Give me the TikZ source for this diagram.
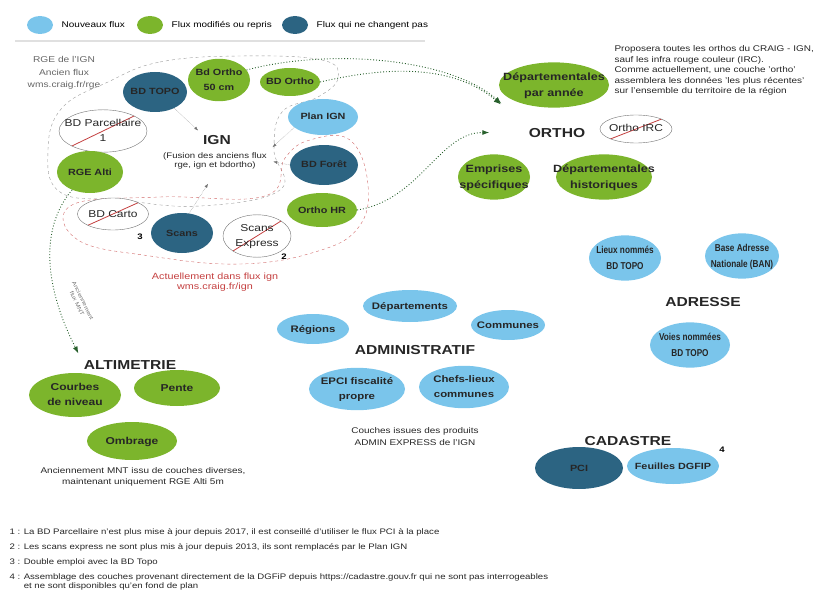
\documentclass[tikz,border=0pt]{standalone}
\usepackage{fontspec}
\setmainfont{Liberation Sans}[FakeStretch=1.2]
\newfontfamily\narrowsans{Liberation Sans}[FakeStretch=0.82]
\usetikzlibrary{shapes.geometric,arrows.meta}

\definecolor{newblue}{RGB}{122,197,235}
\definecolor{modgreen}{RGB}{124,181,44}
\definecolor{keepblue}{RGB}{44,100,130}
\definecolor{feedgreen}{RGB}{40,96,44}
\definecolor{ignred}{RGB}{196,64,64}

\tikzset{
    flux/.style={ellipse, inner sep=0pt, text=black!85,
        font=\fontsize{9}{15}\selectfont\bfseries},
    newflux/.style={flux, fill=newblue},
    modflux/.style={flux, fill=modgreen},
    keepflux/.style={flux, fill=keepblue},
    gone/.style={flux, draw=black!55, fill=white,
        font=\fontsize{10}{15}\selectfont,
        path picture={\draw[ignred, thick] (path picture bounding box.south west)
            -- (path picture bounding box.north east);}},
    bigtxt/.style={font=\fontsize{10.5}{16}\selectfont\bfseries},
    midtxt/.style={font=\fontsize{10}{15}\selectfont\bfseries},
    admtxt/.style={font=\fontsize{9.5}{15}\selectfont\bfseries},
    narrowtxt/.style={font=\narrowsans\fontsize{10}{16}\selectfont\bfseries},
    theme/.style={font=\fontsize{13}{14}\selectfont\bfseries, text=black!85},
    note/.style={font=\fontsize{8.3}{10.5}\selectfont, align=center, text=black!85},
    callnum/.style={font=\fontsize{8}{9}\selectfont\bfseries},
    legdot/.style={ellipse, inner sep=0pt, minimum width=26, minimum height=18},
    legtext/.style={font=\fontsize{8.3}{9}\selectfont, anchor=west},
    feed/.style={dotted, line width=0.9pt, feedgreen, -{Latex[length=7pt, width=5pt]}},
    inner/.style={densely dotted, black!55, -{Latex[length=4pt, width=3pt]}},
}

% ellipse nodes keep their own size, the text does not push them wider
\newcommand{\fl}[1]{\makebox[0pt]{\begin{tabular}{@{}c@{}}#1\end{tabular}}}
\newcommand{\nwn}{\node[newflux]}
\newcommand{\mdn}{\node[modflux]}
\newcommand{\kpn}{\node[keepflux]}
\newcommand{\gon}{\node[gone]}

\begin{document}
\begin{tikzpicture}[x=1pt, y=-1pt]
    \useasboundingbox (0,0) rectangle (816,591);

    % legende
    \node[legdot, fill=newblue] (lgnew) at (40,25) {};
    \node[legtext] (lgnewtxt) at ([xshift=5pt]lgnew.east) {Nouveaux flux};
    \node[legdot, fill=modgreen] (lgmod) at (150,25) {};
    \node[legtext] (lgmodtxt) at ([xshift=5pt]lgmod.east) {Flux modifiés ou repris};
    \node[legdot, fill=keepblue] (lgkeep) at (295,25) {};
    \node[legtext] (lgkeeptxt) at ([xshift=5pt]lgkeep.east) {Flux qui ne changent pas};
    \draw[black!12, line width=1.2pt] (15,41) -- (425,41);

    % IGN
    \draw[dashed, black!40]
        plot[smooth cycle, tension=0.7] coordinates {(108,82) (160,62) (240,56) (322,60)
            (338,78) (318,97) (282,112) (274,150) (280,190) (200,206) (120,200) (60,192)
            (48,150) (62,108)};
    \draw[dashed, ignred!80]
        plot[smooth cycle, tension=0.7] coordinates {(72,205) (160,197) (265,196) (285,158)
            (310,140) (350,140) (368,185) (358,228) (315,252) (240,264) (150,256) (78,240)};

    \node[note, text=black!60, font=\fontsize{8.5}{12.5}\selectfont] (rgetxt) at (64,73)
        {RGE de l'IGN\\Ancien flux\\wms.craig.fr/rge};
    \kpn[minimum width=64, minimum height=40] (bdtopo) at (155,92) {\fl{BD TOPO}};
    \mdn[minimum width=62, minimum height=36] (ortho50) at (219,80) {\fl{Bd Ortho\\50 cm}};
    \mdn[minimum width=60, minimum height=28] (bdortho) at (290,82) {\fl{BD Ortho}};
    \gon[minimum width=88, minimum height=32] (parcel) at (103,131) {\fl{BD Parcellaire\\1}};
    \mdn[minimum width=66, minimum height=42] (rgealti) at (90,172) {\fl{RGE Alti}};
    \node[theme] (ign) at (217,140) {IGN};
    \node[note, font=\fontsize{8}{9}\selectfont] (igntxt) at (215,161)
        {(Fusion des anciens flux\\rge, ign et bdortho)};
    \nwn[minimum width=70, minimum height=36] (planign) at (323,117) {\fl{Plan IGN}};
    \kpn[minimum width=68, minimum height=40] (bdforet) at (324,165) {\fl{BD Forêt}};
    \mdn[minimum width=70, minimum height=34] (orthohr) at (322,210) {\fl{Ortho HR}};
    \gon[minimum width=71, minimum height=32] (bdcarto) at (113,214) {\fl{BD Carto}};
    \node[callnum] (num3) at (140,237) {3};
    \kpn[minimum width=62, minimum height=40] (scans) at (182,233) {\fl{Scans}};
    \gon[minimum width=68, minimum height=42] (scansexp) at (257,236) {\fl{Scans\\Express}};
    \node[callnum] (num2) at (284,257) {2};
    \node[note, text=ignred, font=\fontsize{9}{10}\selectfont] (igncur) at (215,282)
        {Actuellement dans flux ign\\wms.craig.fr/ign};

    \draw[inner, shorten >=2pt] (bdtopo.-40) -- (ign.north west);
    \draw[inner, shorten >=3pt] (planign.200) -- (igntxt.north east);
    \draw[inner, shorten >=3pt] (bdforet.west) -- (igntxt.east);
    \draw[inner, shorten >=13pt] (scans.70) -- (igntxt.south);

    % ORTHO
    \mdn[bigtxt, minimum width=110, minimum height=40] (depan) at (554,85) {\fl{Départementales\\par année}};
    \node[theme] (ortho) at (557,133) {ORTHO};
    \gon[minimum width=72, minimum height=28] (irc) at (636,129) {\fl{Ortho IRC}};
    \mdn[bigtxt, minimum width=72, minimum height=40] (emprises) at (494,177) {\fl{Emprises\\spécifiques}};
    \mdn[bigtxt, minimum width=96, minimum height=42] (dephist) at (604,177) {\fl{Départementales\\historiques}};
    \node[note, align=left, anchor=north west] (orthonote) at (611,42)
        {Proposera toutes les orthos du CRAIG - IGN,\\
         sauf les infra rouge couleur (IRC).\\
         Comme actuellement, une couche 'ortho'\\
         assemblera les données 'les plus récentes'\\
         sur l'ensemble du territoire de la région};

    \draw[feed, shorten >=32pt] (ortho50.20) .. controls (330,48) and (450,58) .. (ortho.north west);
    \draw[feed, shorten >=32pt] (bdortho.east) .. controls (380,68) and (450,62) .. (ortho.north west);
    \draw[feed, shorten >=36pt] (orthohr.east) .. controls (420,200) and (440,132) .. (ortho.west);

    % ADRESSE
    \nwn[narrowtxt, minimum width=72, minimum height=38] (lieux) at (625,258) {\fl{Lieux nommés\\BD TOPO}};
    \nwn[narrowtxt, minimum width=74, minimum height=36] (ban) at (742,256) {\fl{Base Adresse\\Nationale (BAN)}};
    \node[theme] (adresse) at (703,302) {ADRESSE};
    \nwn[narrowtxt, minimum width=80, minimum height=44] (voies) at (690,345) {\fl{Voies nommées\\BD TOPO}};

    % ADMINISTRATIF
    \nwn[admtxt, minimum width=72, minimum height=30] (regions) at (313,329) {\fl{Régions}};
    \nwn[admtxt, minimum width=94, minimum height=32] (depts) at (410,306) {\fl{Départements}};
    \nwn[admtxt, minimum width=74, minimum height=30] (communes) at (508,325) {\fl{Communes}};
    \node[theme] (admin) at (415,350) {ADMINISTRATIF};
    \nwn[admtxt, minimum width=96, minimum height=42] (epci) at (357,389) {\fl{EPCI fiscalité\\propre}};
    \nwn[admtxt, minimum width=90, minimum height=40] (chefs) at (464,387) {\fl{Chefs-lieux\\communes}};
    \node[note, font=\fontsize{8.3}{12}\selectfont] (adminnote) at (415,437)
        {Couches issues des produits\\ADMIN EXPRESS de l'IGN};

    % ALTIMETRIE
    \node[theme] (alti) at (130,365) {ALTIMETRIE};
    \mdn[midtxt, minimum width=92, minimum height=44] (courbes) at (75,395) {\fl{Courbes\\de niveau}};
    \mdn[midtxt, minimum width=86, minimum height=36] (pente) at (177,388) {\fl{Pente}};
    \mdn[midtxt, minimum width=90, minimum height=38] (ombrage) at (132,441) {\fl{Ombrage}};
    \node[note] (altinote) at (143,477)
        {Anciennement MNT issu de couches diverses,\\maintenant uniquement RGE Alti 5m};

    \draw[feed, shorten >=4pt] (rgealti.225) .. controls (38,230) and (46,290) .. (alti.north west);
    \node[note, font=\fontsize{5.5}{6.5}\selectfont, text=black!55, rotate=-64] (altiold)
        at (80,302) {Anciennement\\flux MNT};

    % CADASTRE
    \node[theme] (cadastre) at (628,441) {CADASTRE};
    \kpn[minimum width=88, minimum height=42] (pci) at (579,468) {\fl{PCI}};
    \nwn[minimum width=92, minimum height=36] (feuilles) at (673,466) {\fl{Feuilles DGFIP}};
    \node[callnum] (num4) at (722,450) {4};

    % renvois
    \node[note, align=left, anchor=north west, font=\fontsize{8}{9}\selectfont] (renvois) at (6,525)
        {1 : La BD Parcellaire n'est plus mise à jour depuis 2017, il est conseillé d'utiliser le flux PCI à la place\\[6pt]
         2 : Les scans express ne sont plus mis à jour depuis 2013, ils sont remplacés par le Plan IGN\\[6pt]
         3 : Double emploi avec la BD Topo\\[6pt]
         4 : Assemblage des couches provenant directement de la DGFiP depuis https://cadastre.gouv.fr qui ne sont pas interrogeables\\
         \phantom{4 : }et ne sont disponibles qu'en fond de plan};
\end{tikzpicture}
\end{document}
